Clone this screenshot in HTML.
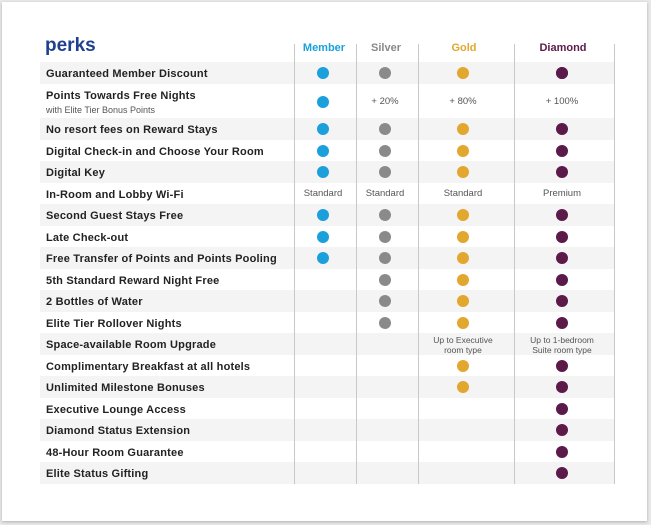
<!DOCTYPE html>
<html><head><style>
*{margin:0;padding:0;box-sizing:border-box}
body{width:651px;height:525px;background:#e9e9e9;position:relative;overflow:hidden;font-family:"Liberation Sans",sans-serif}
.card{position:absolute;left:2px;top:2px;width:645px;height:519px;background:#fff;box-shadow:0 1px 3px rgba(0,0,0,.25)}
.a{position:absolute}
.row{position:absolute;left:40px;width:575px}
.sh{background:#f4f4f4}
.lab{position:absolute;left:46px;font-size:11px;font-weight:bold;color:#222;letter-spacing:.2px}
.vl{position:absolute;top:44px;height:440px;width:1px;background:#c8c8c8}
.d{position:absolute;width:12px;height:12px;border-radius:50%}
.m{background:#1ba0dc}.s{background:#8a8a8a}.g{background:#e2a72e}.di{background:#5c1a4a}
.h{position:absolute;top:42px;font-size:11px;font-weight:bold;transform:translateX(-50%)}
.t{position:absolute;font-size:9.5px;color:#555;transform:translateX(-50%);text-align:center;white-space:nowrap;line-height:10px}
</style></head><body>
<div class="card"></div>
<div class="a" style="left:45px;top:35px;font-size:19px;font-weight:bold;color:#1f3f8f">perks</div>
<div class="h" style="left:324px;color:#1ba0dc">Member</div>
<div class="h" style="left:386px;color:#888">Silver</div>
<div class="h" style="left:464px;color:#e2a72e">Gold</div>
<div class="h" style="left:563px;color:#5c1a4a">Diamond</div>
<div id="rows"></div>
<script>
const rows=[
["Guaranteed Member Discount",73,"mdsgd"],
["Points Towards Free Nights",102,"P"],
["No resort fees on Reward Stays",129,"msgd"],
["Digital Check-in and Choose Your Room",151,"msgd"],
["Digital Key",172,"msgd"],
["In-Room and Lobby Wi-Fi",194,"W"],
["Second Guest Stays Free",215,"msgd"],
["Late Check-out",237,"msgd"],
["Free Transfer of Points and Points Pooling",258,"msgd"],
["5th Standard Reward Night Free",280,"sgd"],
["2 Bottles of Water",301,"sgd"],
["Elite Tier Rollover Nights",323,"sgd"],
["Space-available Room Upgrade",344,"U"],
["Complimentary Breakfast at all hotels",366,"gd"],
["Unlimited Milestone Bonuses",387,"gd"],
["Executive Lounge Access",409,"d"],
["Diamond Status Extension",430,"d"],
["48-Hour Room Guarantee",452,"d"],
["Elite Status Gifting",473,"d"]];
const X={m:323,s:385,g:463,d:562},C={m:"m",s:"s",g:"g",d:"di"};
let h="";
rows.forEach((r,i)=>{
 const [t,y,k]=r;
 let top,ht;
 if(i==1){top=84;ht=34}else{top=y-11;ht=22}
 if(i%2==0) h+=`<div class="row sh" style="top:${top}px;height:${ht}px"></div>`;
 if(k=="P"){
  h+=`<div class="lab" style="top:90px">${t}</div><div class="a" style="left:46px;top:105px;font-size:9px;color:#555">with Elite Tier Bonus Points</div>`;
  h+=`<div class="d m" style="left:317px;top:96px"></div>`;
  h+=`<div class="t" style="left:385px;top:97px">+ 20%</div><div class="t" style="left:463px;top:97px">+ 80%</div><div class="t" style="left:562px;top:97px">+ 100%</div>`;
  return;}
 h+=`<div class="lab" style="top:${y-5}px">${t}</div>`;
 if(k=="W"){["Standard","Standard","Standard","Premium"].forEach((s,j)=>{h+=`<div class="t" style="left:${[323,385,463,562][j]}px;top:${y-5}px">${s}</div>`});return;}
 if(k=="U"){h+=`<div class="t" style="left:463px;top:${y-9}px;font-size:8.5px">Up to Executive<br>room type</div><div class="t" style="left:562px;top:${y-9}px;font-size:8.5px">Up to 1-bedroom<br>Suite room type</div>`;return;}
 for(const c of k){if(X[c])h+=`<div class="d ${C[c]}" style="left:${X[c]-6}px;top:${y-6}px"></div>`;}
});
[294,356,418,514,614].forEach(x=>h+=`<div class="vl" style="left:${x}px"></div>`);
document.getElementById("rows").innerHTML=h;
</script>
</body></html>
